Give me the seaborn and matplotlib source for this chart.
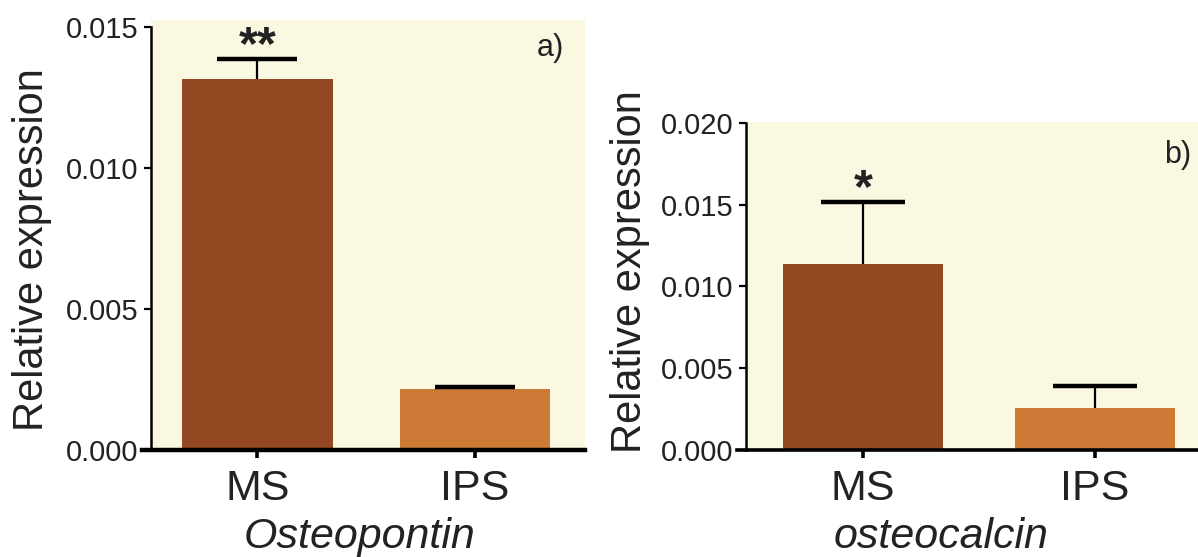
import matplotlib
matplotlib.use("Agg")
import matplotlib.pyplot as plt
import pandas as pd
import seaborn as sns

# data
groups = ["MS", "IPS"]
genes = ["Osteopontin", "osteocalcin"]
panel_tags = ["a)", "b)"]

opn_mean = [0.01317, 0.00217]
opn_err = [0.00071, 0.00008]
opn_sig = ["**", ""]
opn_ticks = [0.000, 0.005, 0.010, 0.015]

ocn_mean = [0.01136, 0.00257]
ocn_err = [0.00383, 0.00134]
ocn_sig = ["*", ""]
ocn_ticks = [0.000, 0.005, 0.010, 0.015, 0.020]

bar_colors = ["#934821", "#CC7A35"]
panel_bg = "#FAF8E1"

sns.set_style("ticks")
plt.rcParams["font.family"] = ["Liberation Sans", "DejaVu Sans"]

fig = plt.figure(figsize=(11.98, 5.57), dpi=100)
fig.patch.set_facecolor("white")

# axes boxes in figure fractions
ax_a = fig.add_axes([0.1258, 0.1921, 0.3625, 0.7720])
ax_b = fig.add_axes([0.6227, 0.1921, 0.3773, 0.5889])

panels = [
    (ax_a, opn_mean, opn_err, opn_sig, opn_ticks, (-0.491, 1.506), 0.01526, 29,
     (-0.227, 0.465), (0.48, -0.156), (0.92, 0.97)),
    (ax_b, ocn_mean, ocn_err, ocn_sig, ocn_ticks, (-0.504, 1.444), 0.02006, 30,
     (-0.212, 0.543), (0.431, -0.204), (0.955, 0.945)),
]

for i, (ax, mean, err, sig, ticks, xlim, ytop, cap, ylab_xy, xlab_xy, tag_xy) in enumerate(panels):
    df = pd.DataFrame({"group": groups, "value": mean})
    sns.barplot(data=df, x="group", y="value", hue="group", palette=bar_colors,
                width=0.69, errorbar=None, legend=False, linewidth=0,
                saturation=1, ax=ax)
    xs = list(range(len(groups)))
    eb = ax.errorbar(xs, mean, yerr=[[0] * len(err), err], fmt="none", ecolor="black",
                     elinewidth=1.6, capsize=cap, capthick=3.2, zorder=3)
    # only the upper cap is drawn in the original
    for cl in eb[1]:
        if list(cl.get_ydata()) == list(mean):
            cl.set_visible(False)
    for x, m, e, s in zip(xs, mean, err, sig):
        if s:
            ax.text(x, m + e, s, ha="center", va="baseline", fontsize=35,
                    fontweight="bold", color="#222222")

    ax.set_facecolor(panel_bg)
    ax.set_xlim(*xlim)
    ax.set_ylim(0, ytop)
    ax.set_yticks(ticks)
    ax.set_yticklabels([f"{t:.3f}" for t in ticks])
    ax.tick_params(axis="y", direction="out", length=5, width=1.6, pad=4,
                   labelsize=21, colors="black", labelcolor="#222222")
    ax.tick_params(axis="x", direction="out", length=6, width=2.6, pad=8,
                   labelsize=31, colors="black", labelcolor="#222222")

    sns.despine(ax=ax, top=True, right=True)
    ax.spines["left"].set_linewidth(1.8)
    ax.spines["left"].set_color("black")
    ax.spines["left"].set_bounds(0, ticks[-1])
    ax.spines["bottom"].set_linewidth(3.2 if i == 0 else 2.6)
    ax.spines["bottom"].set_color("black")
    ax.spines["bottom"].set_bounds(xlim[0] - 0.04, xlim[1])

    ax.set_ylabel("Relative expression", fontsize=30, color="#222222")
    ax.yaxis.set_label_coords(*ylab_xy)
    ax.set_xlabel(genes[i], fontsize=31, style="italic", color="#222222")
    ax.xaxis.set_label_coords(*xlab_xy)
    ax.text(tag_xy[0], tag_xy[1], panel_tags[i], transform=ax.transAxes,
            ha="center", va="top", fontsize=22, color="#222222")

fig.savefig("out.png", dpi=100, facecolor=fig.get_facecolor())
